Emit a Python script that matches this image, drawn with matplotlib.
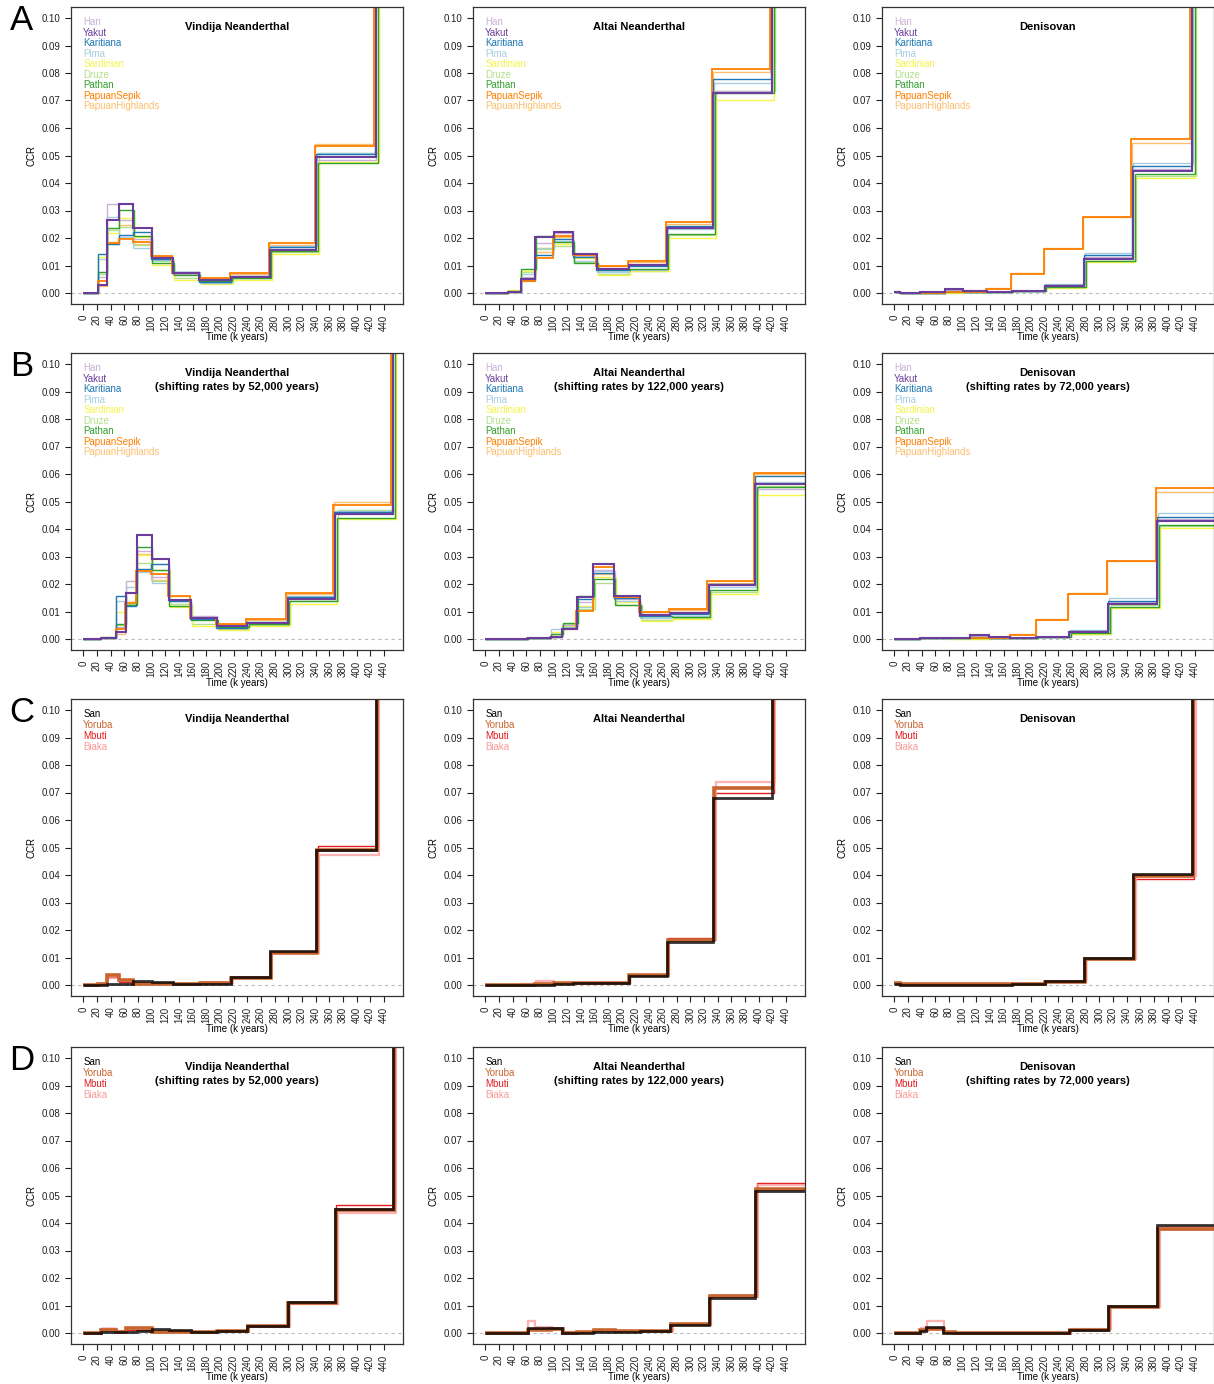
import matplotlib
matplotlib.use('Agg')
import matplotlib.pyplot as plt
import numpy as np

plt.rcParams['font.family'] = ['Liberation Sans', 'DejaVu Sans']

# populations and colours
pops_nonafr = ['Han', 'Yakut', 'Karitiana', 'Pima', 'Sardinian', 'Druze',
               'Pathan', 'PapuanSepik', 'PapuanHighlands']
cols_nonafr = ['#cab2d6', '#6a3d9a', '#1f78b4', '#a6cee3', '#f5f54a',
               '#b2df8a', '#33a02c', '#ff7f00', '#fdbf6f']
pops_afr = ['San', 'Yoruba', 'Mbuti', 'Biaka']
cols_afr = ['#000000', '#c8642d', '#e41a1c', '#fb9a99']

# small per-pair time scaling (steps of the pairs do not line up exactly)
tscale_nonafr = [1.0, 1.0, 0.998, 1.002, 1.01, 1.012, 1.008, 0.994, 0.996]
tscale_afr = [1.0, 1.004, 1.007, 1.012]

titles = ['Vindija Neanderthal', 'Altai Neanderthal', 'Denisovan']
shifts = ['52,000', '122,000', '72,000']

# ---- row A: non-Africans vs archaic (time edges in k years, CCR per segment)
t_a1 = [0, 21, 35, 52, 73, 100, 131, 170, 216, 273, 341, 428, 500]
ccr_a1 = [
    [0, 0.0060, 0.0325, 0.0265, 0.0195, 0.0126, 0.0070, 0.0048, 0.0058, 0.0160, 0.0483, 0.2],
    [0, 0.0030, 0.0264, 0.0322, 0.0235, 0.0128, 0.0072, 0.0046, 0.0060, 0.0158, 0.0494, 0.2],
    [0, 0.0143, 0.0177, 0.0212, 0.0222, 0.0124, 0.0075, 0.0040, 0.0063, 0.0167, 0.0505, 0.2],
    [0, 0.0125, 0.0277, 0.0205, 0.0165, 0.0120, 0.0077, 0.0038, 0.0057, 0.0170, 0.0508, 0.2],
    [0, 0.0130, 0.0217, 0.0273, 0.0205, 0.0101, 0.0047, 0.0033, 0.0049, 0.0141, 0.0475, 0.2],
    [0, 0.0070, 0.0228, 0.0240, 0.0173, 0.0115, 0.0055, 0.0036, 0.0053, 0.0150, 0.0510, 0.2],
    [0, 0.0075, 0.0238, 0.0302, 0.0209, 0.0108, 0.0065, 0.0042, 0.0055, 0.0153, 0.0473, 0.2],
    [0, 0.0045, 0.0183, 0.0195, 0.0184, 0.0135, 0.0071, 0.0053, 0.0072, 0.0182, 0.0533, 0.2],
    [0, 0.0025, 0.0185, 0.0249, 0.0178, 0.0133, 0.0069, 0.0052, 0.0070, 0.0176, 0.0543, 0.2],
]
t_a2 = [0, 33, 52, 73, 100, 129, 163, 210, 266, 334, 419, 500]
ccr_a2 = [
    [0, 0.0003, 0.0060, 0.0182, 0.0218, 0.0135, 0.0090, 0.0105, 0.0238, 0.0735, 0.2],
    [0, 0.0003, 0.0050, 0.0202, 0.0222, 0.0142, 0.0088, 0.0102, 0.0235, 0.0728, 0.2],
    [0, 0.0003, 0.0048, 0.0138, 0.0195, 0.0132, 0.0085, 0.0098, 0.0243, 0.0777, 0.2],
    [0, 0.0003, 0.0070, 0.0165, 0.0190, 0.0118, 0.0078, 0.0085, 0.0232, 0.0762, 0.2],
    [0, 0.0010, 0.0080, 0.0165, 0.0178, 0.0128, 0.0066, 0.0079, 0.0201, 0.0703, 0.2],
    [0, 0.0003, 0.0078, 0.0160, 0.0170, 0.0113, 0.0068, 0.0080, 0.0210, 0.0733, 0.2],
    [0, 0.0008, 0.0088, 0.0208, 0.0185, 0.0108, 0.0082, 0.0088, 0.0216, 0.0727, 0.2],
    [0, 0.0003, 0.0042, 0.0127, 0.0206, 0.0140, 0.0100, 0.0116, 0.0259, 0.0815, 0.2],
    [0, 0.0003, 0.0045, 0.0150, 0.0203, 0.0137, 0.0097, 0.0112, 0.0252, 0.0805, 0.2],
]
t_a3 = [0, 9, 38, 74, 101, 135, 172, 220, 278, 349, 436, 500]
ccr_a3 = [
    [0.0007, 0.0001, 0.0001, 0.0012, 0.0006, 0.0005, 0.0007, 0.0028, 0.0130, 0.0450, 0.2],
    [0.0002, 0.0001, 0.0002, 0.0015, 0.0007, 0.0005, 0.0007, 0.0026, 0.0125, 0.0443, 0.2],
    [0.0005, 0.0001, 0.0001, 0.0008, 0.0003, 0.0005, 0.0007, 0.0029, 0.0137, 0.0462, 0.2],
    [0.0002, 0.0001, 0.0001, 0.0006, 0.0003, 0.0005, 0.0008, 0.0032, 0.0145, 0.0473, 0.2],
    [0.0002, 0.0001, 0.0001, 0.0001, 0.0002, 0.0004, 0.0006, 0.0019, 0.0113, 0.0420, 0.2],
    [0.0002, 0.0001, 0.0001, 0.0003, 0.0003, 0.0004, 0.0006, 0.0021, 0.0118, 0.0425, 0.2],
    [0.0002, 0.0001, 0.0001, 0.0003, 0.0003, 0.0004, 0.0006, 0.0022, 0.0115, 0.0432, 0.2],
    [0.0002, 0.0001, 0.0001, 0.0003, 0.0004, 0.0013, 0.0068, 0.0160, 0.0278, 0.0561, 0.2],
    [0.0002, 0.0001, 0.0001, 0.0003, 0.0004, 0.0018, 0.0073, 0.0163, 0.0278, 0.0546, 0.2],
]

# ---- row B: shifted rates
t_b1 = [0, 26, 48, 62, 78, 100, 125, 157, 195, 240, 299, 368, 453, 500]
ccr_b1 = [
    [0, 0.0003, 0.0045, 0.0212, 0.0320, 0.0225, 0.0141, 0.0082, 0.0050, 0.0058, 0.0147, 0.0455, 0.2],
    [0, 0.0003, 0.0025, 0.0167, 0.0377, 0.0290, 0.0143, 0.0075, 0.0047, 0.0060, 0.0145, 0.0453, 0.2],
    [0, 0.0003, 0.0157, 0.0121, 0.0254, 0.0272, 0.0140, 0.0072, 0.0040, 0.0063, 0.0153, 0.0462, 0.2],
    [0, 0.0003, 0.0140, 0.0188, 0.0242, 0.0203, 0.0137, 0.0080, 0.0039, 0.0057, 0.0155, 0.0465, 0.2],
    [0, 0.0003, 0.0098, 0.0135, 0.0307, 0.0252, 0.0115, 0.0049, 0.0034, 0.0048, 0.0128, 0.0437, 0.2],
    [0, 0.0003, 0.0050, 0.0127, 0.0277, 0.0212, 0.0126, 0.0055, 0.0037, 0.0052, 0.0138, 0.0468, 0.2],
    [0, 0.0008, 0.0055, 0.0123, 0.0335, 0.0250, 0.0120, 0.0068, 0.0043, 0.0055, 0.0140, 0.0440, 0.2],
    [0, 0.0003, 0.0035, 0.0130, 0.0248, 0.0236, 0.0157, 0.0075, 0.0054, 0.0072, 0.0168, 0.0487, 0.2],
    [0, 0.0003, 0.0018, 0.0133, 0.0310, 0.0215, 0.0155, 0.0078, 0.0053, 0.0070, 0.0163, 0.0500, 0.2],
]
t_b2 = [0, 62, 96, 113, 134, 158, 189, 226, 271, 327, 395, 500]
ccr_b2 = [
    [0, 0.0002, 0.0020, 0.0050, 0.0135, 0.0252, 0.0145, 0.0090, 0.0097, 0.0195, 0.0545],
    [0, 0.0002, 0.0007, 0.0037, 0.0152, 0.0272, 0.0157, 0.0088, 0.0095, 0.0195, 0.0562],
    [0, 0.0002, 0.0007, 0.0040, 0.0145, 0.0240, 0.0148, 0.0085, 0.0090, 0.0200, 0.0594],
    [0, 0.0002, 0.0035, 0.0045, 0.0115, 0.0247, 0.0140, 0.0078, 0.0085, 0.0190, 0.0570],
    [0, 0.0002, 0.0025, 0.0048, 0.0120, 0.0227, 0.0135, 0.0066, 0.0073, 0.0165, 0.0525],
    [0, 0.0002, 0.0012, 0.0055, 0.0110, 0.0202, 0.0122, 0.0068, 0.0075, 0.0172, 0.0555],
    [0, 0.0002, 0.0017, 0.0060, 0.0155, 0.0220, 0.0125, 0.0082, 0.0080, 0.0177, 0.0553],
    [0, 0.0002, 0.0007, 0.0035, 0.0103, 0.0263, 0.0152, 0.0100, 0.0108, 0.0210, 0.0605],
    [0, 0.0002, 0.0007, 0.0035, 0.0105, 0.0237, 0.0150, 0.0097, 0.0105, 0.0205, 0.0600],
]
t_b3 = [0, 38, 80, 111, 139, 170, 208, 256, 313, 385, 500]
ccr_b3 = [
    [0.0001, 0.0002, 0.0003, 0.0012, 0.0004, 0.0005, 0.0006, 0.0028, 0.0133, 0.0435],
    [0.0001, 0.0003, 0.0003, 0.0015, 0.0006, 0.0005, 0.0006, 0.0026, 0.0127, 0.0428],
    [0.0001, 0.0002, 0.0003, 0.0008, 0.0004, 0.0005, 0.0006, 0.0030, 0.0140, 0.0445],
    [0.0001, 0.0002, 0.0003, 0.0006, 0.0004, 0.0005, 0.0006, 0.0032, 0.0148, 0.0457],
    [0.0001, 0.0002, 0.0001, 0.0000, 0.0004, 0.0005, 0.0006, 0.0019, 0.0113, 0.0405],
    [0.0001, 0.0002, 0.0003, 0.0003, 0.0004, 0.0005, 0.0006, 0.0020, 0.0122, 0.0410],
    [0.0001, 0.0002, 0.0003, 0.0003, 0.0004, 0.0005, 0.0006, 0.0022, 0.0117, 0.0415],
    [0.0001, 0.0002, 0.0003, 0.0002, 0.0004, 0.0013, 0.0068, 0.0165, 0.0285, 0.0548],
    [0.0001, 0.0002, 0.0003, 0.0002, 0.0004, 0.0018, 0.0073, 0.0168, 0.0285, 0.0533],
]

# ---- row C: Africans vs archaic
t_c1 = t_a1
ccr_c1 = [
    [0, 0.0000, 0.0003, 0.0003, 0.0013, 0.0012, 0.0003, 0.0005, 0.0028, 0.0125, 0.0492, 0.2],
    [0, 0.0003, 0.0038, 0.0018, 0.0005, 0.0004, 0.0003, 0.0007, 0.0027, 0.0118, 0.0490, 0.2],
    [0, 0.0009, 0.0030, 0.0012, 0.0004, 0.0003, 0.0003, 0.0010, 0.0028, 0.0120, 0.0505, 0.2],
    [0, 0.0005, 0.0025, 0.0013, 0.0006, 0.0004, 0.0004, 0.0008, 0.0025, 0.0115, 0.0472, 0.2],
]
t_c2 = t_a2
ccr_c2 = [
    [0, 0, 0.0000, 0.0001, 0.0003, 0.0006, 0.0007, 0.0033, 0.0158, 0.0680, 0.2],
    [0, 0, 0.0001, 0.0002, 0.0008, 0.0008, 0.0008, 0.0035, 0.0165, 0.0715, 0.2],
    [0, 0, 0.0001, 0.0002, 0.0006, 0.0007, 0.0008, 0.0035, 0.0172, 0.0698, 0.2],
    [0, 0, 0.0002, 0.0013, 0.0009, 0.0005, 0.0009, 0.0032, 0.0163, 0.0737, 0.2],
]
t_c3 = t_a3
ccr_c3 = [
    [0.0003, 0.0001, 0.0001, 0.0001, 0.0001, 0.0001, 0.0002, 0.0013, 0.0098, 0.0402, 0.2],
    [0.0007, 0.0002, 0.0002, 0.0002, 0.0002, 0.0002, 0.0002, 0.0012, 0.0095, 0.0395, 0.2],
    [0.0004, 0.0001, 0.0001, 0.0001, 0.0001, 0.0001, 0.0002, 0.0013, 0.0093, 0.0385, 0.2],
    [0.0003, 0.0001, 0.0001, 0.0001, 0.0001, 0.0001, 0.0002, 0.0015, 0.0094, 0.0398, 0.2],
]

# ---- row D: Africans, shifted rates
t_d1 = t_b1
ccr_d1 = [
    [0, 0.0005, 0.0002, 0.0004, 0.0007, 0.0013, 0.0012, 0.0004, 0.0007, 0.0025, 0.0112, 0.0450, 0.2],
    [0, 0.0012, 0.0003, 0.0018, 0.0018, 0.0005, 0.0003, 0.0004, 0.0008, 0.0027, 0.0108, 0.0447, 0.2],
    [0, 0.0017, 0.0008, 0.0012, 0.0012, 0.0004, 0.0003, 0.0005, 0.0009, 0.0026, 0.0110, 0.0465, 0.2],
    [0, 0.0015, 0.0006, 0.0015, 0.0014, 0.0005, 0.0003, 0.0004, 0.0008, 0.0023, 0.0105, 0.0435, 0.2],
]
t_d2 = [0, 62, 72, 96, 113, 134, 158, 189, 226, 271, 327, 395, 500]
ccr_d2 = [
    [0, 0.0020, 0.0018, 0.0019, 0.0001, 0.0001, 0.0003, 0.0005, 0.0008, 0.0030, 0.0128, 0.0518],
    [0, 0.0012, 0.0012, 0.0014, 0.0001, 0.0003, 0.0011, 0.0008, 0.0009, 0.0031, 0.0135, 0.0522],
    [0, 0.0015, 0.0013, 0.0014, 0.0001, 0.0002, 0.0008, 0.0007, 0.0009, 0.0033, 0.0138, 0.0546],
    [0, 0.0045, 0.0022, 0.0015, 0.0002, 0.0005, 0.0008, 0.0006, 0.0008, 0.0030, 0.0132, 0.0538],
]
t_d3 = [0, 38, 47, 72, 88, 111, 139, 170, 208, 256, 313, 385, 500]
ccr_d3 = [
    [0, 0.0008, 0.0022, 0.0001, 0.0001, 0.0001, 0.0001, 0.0001, 0.0001, 0.0012, 0.0097, 0.0392],
    [0, 0.0010, 0.0015, 0.0002, 0.0001, 0.0001, 0.0001, 0.0001, 0.0001, 0.0012, 0.0095, 0.0378],
    [0, 0.0012, 0.0015, 0.0001, 0.0001, 0.0001, 0.0001, 0.0001, 0.0001, 0.0013, 0.0097, 0.0380],
    [0, 0.0018, 0.0045, 0.0004, 0.0001, 0.0001, 0.0001, 0.0001, 0.0001, 0.0014, 0.0093, 0.0385],
]

panels = [
    [(t_a1, ccr_a1), (t_a2, ccr_a2), (t_a3, ccr_a3)],
    [(t_b1, ccr_b1), (t_b2, ccr_b2), (t_b3, ccr_b3)],
    [(t_c1, ccr_c1), (t_c2, ccr_c2), (t_c3, ccr_c3)],
    [(t_d1, ccr_d1), (t_d2, ccr_d2), (t_d3, ccr_d3)],
]

W, H = 1214, 1384
fig = plt.figure(figsize=(W / 100, H / 100), dpi=100)

col_left = [71, 473, 882]
row_top = [7, 353, 699, 1047]
aw, ah = 332, 297
letters = ['A', 'B', 'C', 'D']
letter_y = [21, 367, 712, 1060]

# drawing styles
nonafr_order = [8, 5, 4, 3, 0, 6, 2, 7, 1]
afr_order = [2, 3, 1, 0]
afr_lw = [2.0, 2.6, 1.0, 1.6]
afr_alpha = [0.8, 1.0, 1.0, 0.75]

for r in range(4):
    fig.text(22 / W, 1 - letter_y[r] / H, letters[r], fontsize=25,
             ha='center', va='center')
    for c in range(3):
        ax = fig.add_axes([col_left[c] / W, 1 - (row_top[r] + ah) / H, aw / W, ah / H])
        t, ccr = panels[r][c]
        african = r >= 2
        if african:
            pops, cols = pops_afr, cols_afr
            for i in afr_order:
                edges = [e * tscale_afr[i] for e in t]
                ax.stairs(ccr[i], edges, baseline=None, color=cols[i],
                          lw=afr_lw[i], alpha=afr_alpha[i])
        else:
            pops, cols = pops_nonafr, cols_nonafr
            for i in nonafr_order:
                edges = [e * tscale_nonafr[i] for e in t]
                lw = 1.5 if i == 1 else (1.3 if i == 7 else 1.0)
                ax.stairs(ccr[i], edges, baseline=None, color=cols[i], lw=lw)
        ax.axhline(0, color='#bbbbbb', lw=0.8, ls=(0, (3, 3)), zorder=0)

        ax.set_xlim(-18, 468)
        ax.set_ylim(-0.004, 0.104)
        ax.set_xticks(np.arange(0, 441, 20))
        ax.set_yticks(np.arange(0, 0.101, 0.01))
        ax.set_yticklabels(['%.2f' % v for v in np.arange(0, 0.101, 0.01)])
        ax.tick_params(axis='both', direction='out', length=4, width=0.8,
                       labelsize=7, colors='#222222')
        ax.tick_params(axis='x', labelrotation=90, pad=3.5)
        ax.tick_params(axis='y', pad=3.5)
        for s in ax.spines.values():
            s.set_linewidth(0.9)
            s.set_color('#333333')
        ax.set_xlabel('Time (k years)', fontsize=7, labelpad=1)
        ax.set_ylabel('CCR', fontsize=7, labelpad=4)

        # legend as coloured text
        step = 0.0038 if not african else 0.0039
        for i, name in enumerate(pops):
            ax.text(0, 0.0984 - i * step, name, color=cols[i], fontsize=7,
                    ha='left', va='center')

        # title inside the panel
        lines = [titles[c]]
        if r in (1, 3):
            lines.append('(shifting rates by %s years)' % shifts[c])
        for k, line in enumerate(lines):
            ax.text(0.5, 0.0968 - k * 0.0052, line, transform=ax.get_yaxis_transform(),
                    fontsize=8, fontweight='bold', ha='center', va='center')

fig.savefig('out.png', dpi=100)
